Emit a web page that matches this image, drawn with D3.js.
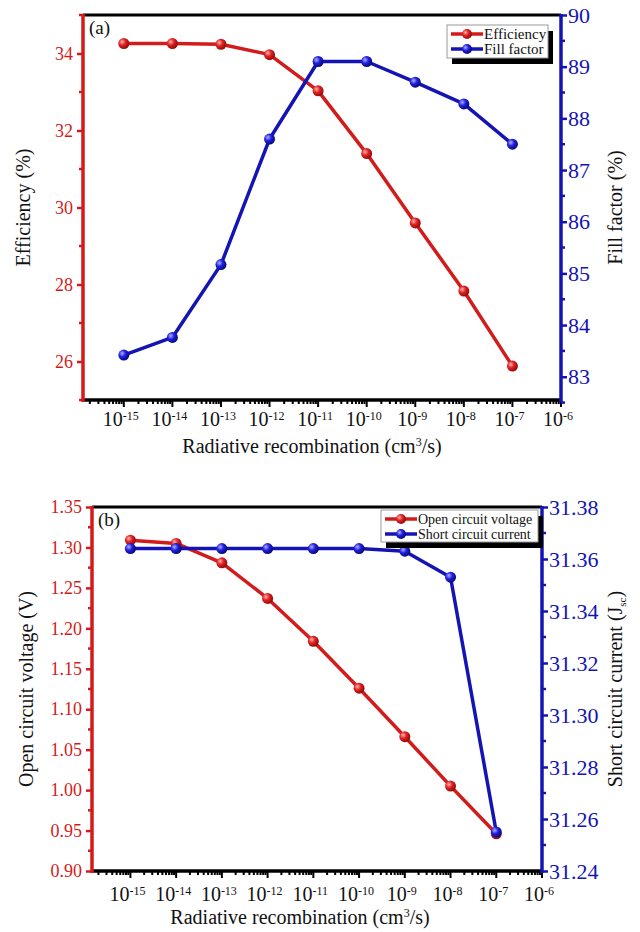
<!DOCTYPE html>
<html>
<head>
<meta charset="utf-8">
<script src="https://cdn.jsdelivr.net/npm/d3@7"></script>
<style>
  body { margin: 0; background: #fff; }
  svg, svg text { font-family: "Liberation Serif", "Times New Roman", "DejaVu Serif", serif !important; }
</style>
</head>
<body>
<div id="chart"></div>
<script>
"use strict";

/* <!-- Data --> */
const rates = [1e-15, 1e-14, 1e-13, 1e-12, 1e-11, 1e-10, 1e-9, 1e-8, 1e-7];
const xTickExps = [-15, -14, -13, -12, -11, -10, -9, -8, -7, -6];

const efficiency = [34.26, 34.26, 34.24, 33.97, 33.03, 31.40, 29.60, 27.83, 25.88];
const fillFactor = [83.42, 83.76, 85.17, 87.60, 89.10, 89.10, 88.70, 88.28, 87.50];

const openCircuitVoltage = [1.309, 1.305, 1.281, 1.237, 1.184, 1.126, 1.066, 1.005, 0.946];
const shortCircuitCurrent = [31.364, 31.364, 31.364, 31.364, 31.364, 31.364, 31.363, 31.353, 31.255];

const effTicks = [26, 28, 30, 32, 34];
const ffTicks = [83, 84, 85, 86, 87, 88, 89, 90];
const vocTicks = [0.90, 0.95, 1.00, 1.05, 1.10, 1.15, 1.20, 1.25, 1.30, 1.35];
const jscTicks = [31.24, 31.26, 31.28, 31.30, 31.32, 31.34, 31.36, 31.38];

const RED = "#d21c1c", BLUE = "#1414b4";
const FONT = "Liberation Serif, Times New Roman, DejaVu Serif, serif";

const svg = d3.select("#chart").append("svg")
  .attr("width", 640).attr("height", 932)
  .attr("font-family", FONT);

/* <!-- Sphere gradients for the markers --> */
const defs = svg.append("defs");
[["redBall", "#ffb0b0", "#e02020", "#8a0a0a"], ["blueBall", "#b0b0ff", "#2020e0", "#06066e"]].forEach(([id, a, b, c]) => {
  const g = defs.append("radialGradient").attr("id", id)
    .attr("cx", "35%").attr("cy", "35%").attr("r", "70%");
  g.append("stop").attr("offset", "0%").attr("stop-color", a);
  g.append("stop").attr("offset", "45%").attr("stop-color", b);
  g.append("stop").attr("offset", "100%").attr("stop-color", c);
});

var _superTick = (sel, exp) => {
  sel.append("tspan").text("10");
  sel.append("tspan").attr("dy", -6).attr("font-size", 12).text(exp);
};

var _panel = (p) => {
  const x = d3.scaleLog().domain([Math.pow(10, -15.84), 1e-6]).range([p.left, p.right]);
  const yL = d3.scaleLinear().domain(p.leftDomain).range([p.bottom, p.top]);
  const yR = d3.scaleLinear().domain(p.rightDomain).range([p.bottom, p.top]);
  const g = svg.append("g");

  /* <!-- x minor + major ticks --> */
  const minors = [];
  for (let e = -16; e < -6; e++) for (let m = 1; m < 10; m++) {
    const v = m * Math.pow(10, e);
    if (v >= x.domain()[0] && v <= 1e-6) minors.push({ v: v, major: m === 1 });
  }
  minors.push({ v: 1e-6, major: true });
  g.selectAll(".xt").data(minors).enter().append("line")
    .attr("x1", d => x(d.v)).attr("x2", d => x(d.v))
    .attr("y1", p.bottom).attr("y2", d => p.bottom + (d.major ? 7 : 4))
    .attr("stroke", "#000").attr("stroke-width", 2);

  g.selectAll(".xl").data(xTickExps).enter().append("text")
    .attr("x", d => x(Math.pow(10, d)) - 3).attr("y", p.bottom + p.xLabelDy)
    .attr("text-anchor", "middle").attr("font-size", 20).attr("fill", "#111")
    .each(function(d) { _superTick(d3.select(this), d); });

  /* <!-- left y axis --> */
  const leftAxis = d3.axisLeft(yL).tickValues(p.leftTicks).tickFormat(p.leftFmt).tickSize(6).tickPadding(4);
  const la = g.append("g").attr("transform", `translate(${p.left},0)`).call(leftAxis)
    .attr("font-family", FONT);
  la.select(".domain").remove();
  la.selectAll(".tick line").attr("stroke", RED).attr("stroke-width", 2.5);
  la.selectAll(".tick text").attr("fill", RED).attr("font-size", p.leftFont);
  g.selectAll(".lm").data(p.leftMinor).enter().append("line")
    .attr("x1", p.left).attr("x2", p.left - 4)
    .attr("y1", d => yL(d)).attr("y2", d => yL(d))
    .attr("stroke", RED).attr("stroke-width", 2.5);

  /* <!-- right y axis --> */
  const rightAxis = d3.axisRight(yR).tickValues(p.rightTicks).tickFormat(p.rightFmt).tickSize(6).tickPadding(1);
  const ra = g.append("g").attr("transform", `translate(${p.right},0)`).call(rightAxis)
    .attr("font-family", FONT);
  ra.select(".domain").remove();
  ra.selectAll(".tick line").attr("stroke", BLUE).attr("stroke-width", 2.5);
  ra.selectAll(".tick text").attr("fill", BLUE).attr("font-size", p.rightFont);
  g.selectAll(".rm").data(p.rightMinor).enter().append("line")
    .attr("x1", p.right).attr("x2", p.right + 4)
    .attr("y1", d => yR(d)).attr("y2", d => yR(d))
    .attr("stroke", BLUE).attr("stroke-width", 2.5);

  /* <!-- frame --> */
  g.append("line").attr("x1", p.left).attr("x2", p.right).attr("y1", p.top).attr("y2", p.top)
    .attr("stroke", "#000").attr("stroke-width", 3);
  g.append("line").attr("x1", p.left).attr("x2", p.right).attr("y1", p.bottom).attr("y2", p.bottom)
    .attr("stroke", "#000").attr("stroke-width", 3.5);
  g.append("line").attr("x1", p.left).attr("x2", p.left).attr("y1", p.top - 1).attr("y2", p.bottom + 2)
    .attr("stroke", RED).attr("stroke-width", 3.5);
  g.append("line").attr("x1", p.right).attr("x2", p.right).attr("y1", p.top - 1).attr("y2", p.bottom + 2)
    .attr("stroke", BLUE).attr("stroke-width", 3.5);

  /* <!-- series --> */
  const series = [
    { vals: p.leftVals, y: yL, color: RED, ball: "redBall" },
    { vals: p.rightVals, y: yR, color: BLUE, ball: "blueBall" }
  ];
  series.forEach(s => {
    const line = d3.line().x((d, i) => x(rates[i])).y(d => s.y(d));
    g.append("path").attr("d", line(s.vals)).attr("fill", "none")
      .attr("stroke", s.color).attr("stroke-width", 3.5).attr("stroke-linejoin", "round");
  });
  series.forEach(s => {
    g.selectAll(null).data(s.vals).enter().append("circle")
      .attr("cx", (d, i) => x(rates[i])).attr("cy", d => s.y(d)).attr("r", 5.5)
      .attr("fill", `url(#${s.ball})`);
  });

  /* <!-- legend --> */
  const lg = g.append("g");
  lg.append("rect").attr("x", p.legend.x + 5).attr("y", p.legend.y + 6)
    .attr("width", p.legend.w).attr("height", p.legend.h).attr("fill", "#000");
  lg.append("rect").attr("x", p.legend.x).attr("y", p.legend.y)
    .attr("width", p.legend.w).attr("height", p.legend.h)
    .attr("fill", "#fff").attr("stroke", "#999").attr("stroke-width", 1);
  p.legendNames.forEach((name, i) => {
    const yy = p.legend.y + 9 + i * 15;
    const c = i === 0 ? RED : BLUE;
    lg.append("line").attr("x1", p.legend.x + 4).attr("x2", p.legend.x + 36)
      .attr("y1", yy).attr("y2", yy).attr("stroke", c).attr("stroke-width", 3.5);
    lg.append("circle").attr("cx", p.legend.x + 20).attr("cy", yy).attr("r", 5)
      .attr("fill", `url(#${i === 0 ? "redBall" : "blueBall"})`);
    lg.append("text").attr("x", p.legend.x + 37).attr("y", yy + 5)
      .attr("font-size", p.legendFont).attr("fill", "#111").text(name);
  });

  /* <!-- labels --> */
  g.append("text").attr("x", p.left + 6).attr("y", p.top + 19)
    .attr("font-size", 19).attr("fill", "#111").text(p.tag);

  g.append("text").attr("transform", `translate(${p.leftTitleX},${(p.top + p.bottom) / 2}) rotate(-90)`)
    .attr("text-anchor", "middle").attr("font-size", 20).attr("fill", "#111").text(p.leftTitle);

  const rt = g.append("text").attr("transform", `translate(${p.rightTitleX},${(p.top + p.bottom) / 2}) rotate(-90)`)
    .attr("text-anchor", "middle").attr("font-size", 20).attr("fill", "#111");
  rt.append("tspan").text(p.rightTitle);
  if (p.rightSub) {
    rt.append("tspan").attr("font-size", 11).attr("dy", 4).text(p.rightSub);
    rt.append("tspan").attr("dy", -4).text(")");
  }

  const xt = g.append("text").attr("x", p.xTitleX).attr("y", p.bottom + 53)
    .attr("text-anchor", "middle").attr("font-size", 20).attr("fill", "#111");
  xt.append("tspan").text("Radiative recombination (cm");
  xt.append("tspan").attr("font-size", 12).attr("dy", -7).text("3");
  xt.append("tspan").attr("dy", 7).text("/s)");
};

_panel({
  left: 83, right: 561, top: 15, bottom: 400, xLabelDy: 26,
  leftDomain: [25, 35], rightDomain: [82.55, 90],
  leftTicks: effTicks, rightTicks: ffTicks,
  leftMinor: [25, 27, 29, 31, 33, 35], rightMinor: [82.5, 83.5, 84.5, 85.5, 86.5, 87.5, 88.5, 89.5],
  leftFmt: d3.format("d"), rightFmt: d3.format("d"),
  leftFont: 18, rightFont: 22,
  leftVals: efficiency, rightVals: fillFactor,
  legend: { x: 447, y: 25, w: 101, h: 33 },
  legendNames: ["Efficiency", "Fill factor"], legendFont: 15,
  tag: "(a)",
  leftTitle: "Efficiency (%)", leftTitleX: 30,
  rightTitle: "Fill factor (%)", rightTitleX: 622,
  xTitleX: 312
});

_panel({
  left: 92, right: 542, top: 507, bottom: 871, xLabelDy: 30,
  leftDomain: [0.90, 1.35], rightDomain: [31.24, 31.38],
  leftTicks: vocTicks, rightTicks: jscTicks,
  leftMinor: d3.range(9).map(i => 0.925 + i * 0.05), rightMinor: d3.range(7).map(i => 31.25 + i * 0.02),
  leftFmt: d3.format(".2f"), rightFmt: d3.format(".2f"),
  leftFont: 18, rightFont: 22,
  leftVals: openCircuitVoltage, rightVals: shortCircuitCurrent,
  legend: { x: 381, y: 510, w: 157, h: 32 },
  legendNames: ["Open circuit voltage", "Short circuit current"], legendFont: 14,
  tag: "(b)",
  leftTitle: "Open circuit voltage (V)", leftTitleX: 33,
  rightTitle: "Short circuit current (J", rightSub: "sc", rightTitleX: 622,
  xTitleX: 300
});
</script>
</body>
</html>
